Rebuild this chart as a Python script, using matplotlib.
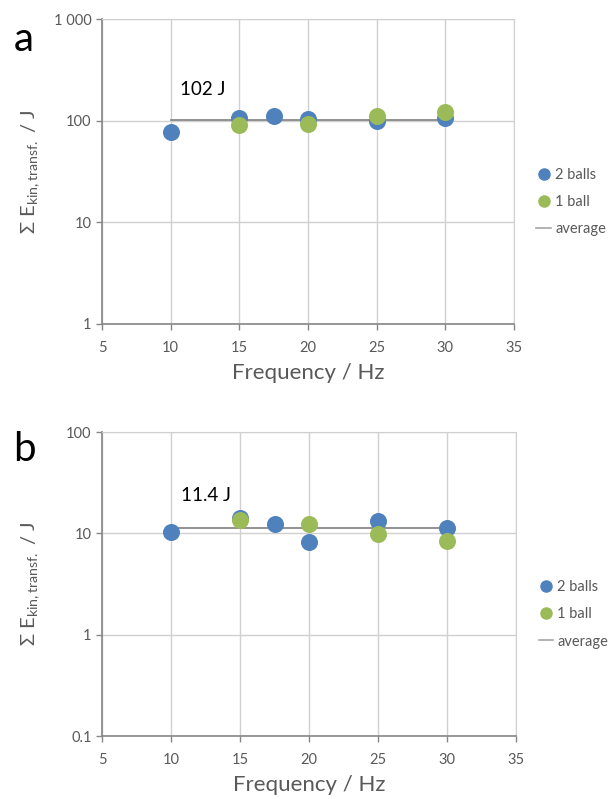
import matplotlib
matplotlib.use('Agg')
import matplotlib.pyplot as plt
from matplotlib.lines import Line2D
from matplotlib.ticker import FixedLocator, FixedFormatter, NullLocator

plt.rcParams['font.family'] = ['Lato', 'DejaVu Sans']
plt.rcParams['mathtext.default'] = 'regular'

BLUE = '#4f81bd'
GREEN = '#9bbb59'
GREY_TEXT = '#595959'

freq_two = [10, 15, 17.5, 20, 25, 30]
freq_one = [15, 20, 25, 30]

# panel a
energy_two_a = [78, 106, 112, 104, 100, 107]
energy_one_a = [91, 93, 110, 123]
average_a = 102

# panel b
energy_two_b = [10.4, 14.3, 12.4, 8.3, 13.2, 11.4]
energy_one_b = [13.7, 12.4, 9.8, 8.4]
average_b = 11.4

yticks_a = [1, 10, 100, 1000]
yticklabels_a = ['1', '10', '100', '1 000']
yticks_b = [0.1, 1, 10, 100]
yticklabels_b = ['0.1', '1', '10', '100']
xticks = [5, 10, 15, 20, 25, 30, 35]


def _draw_panel(ax, e_two, e_one, avg, yticks, yticklabels, note_y):
    ax.set_yscale('log')
    ax.set_xlim(5, 35)
    ax.set_ylim(yticks[0], yticks[-1])

    ax.plot([10, 30], [avg, avg], color='#7f7f7f', lw=1.2, zorder=2)
    ax.scatter(freq_two, e_two, s=150, color=BLUE, zorder=3, linewidths=0)
    ax.scatter(freq_one, e_one, s=150, color=GREEN, zorder=4, linewidths=0)

    ax.text(10.7, note_y, f'{avg:g} J', fontsize=13.5, color='black',
            va='center', ha='left')

    ax.xaxis.set_major_locator(FixedLocator(xticks))
    ax.yaxis.set_major_locator(FixedLocator(yticks))
    ax.yaxis.set_major_formatter(FixedFormatter(yticklabels))
    ax.yaxis.set_minor_locator(NullLocator())
    ax.grid(True, color='#d0d0d0', lw=1.0)
    ax.set_axisbelow(True)

    for side in ('top', 'right'):
        ax.spines[side].set_color('#d0d0d0')
    for side in ('left', 'bottom'):
        ax.spines[side].set_color('#868686')
        ax.spines[side].set_linewidth(1.2)
    ax.tick_params(direction='out', length=4, width=1.0, color='#868686',
                   labelcolor=GREY_TEXT, labelsize=10.5)
    ax.tick_params(axis='x', pad=8)

    ax.set_xlabel('Frequency / Hz', fontsize=16, color=GREY_TEXT, labelpad=6)
    ax.set_ylabel(r'Σ E$_{kin,transf.}$ / J', fontsize=14.5, color=GREY_TEXT)
    ax.yaxis.set_label_coords(-0.145, 0.5)

    handles = [
        Line2D([], [], marker='o', ls='none', color=BLUE, markersize=8),
        Line2D([], [], marker='o', ls='none', color=GREEN, markersize=8),
        Line2D([], [], color='#a6a6a6', lw=1.2),
    ]
    ax.legend(handles, ['2 balls', '1 ball', 'average'],
              loc='center left', bbox_to_anchor=(1.04, 0.40),
              frameon=False, fontsize=10.5, labelcolor=GREY_TEXT,
              handlelength=1.0, handletextpad=0.3, labelspacing=0.9,
              borderaxespad=0)


fig = plt.figure(figsize=(6.09, 7.99), dpi=100)
ax_a = fig.add_axes([0.1675, 0.5945, 0.6765, 0.3817])
ax_b = fig.add_axes([0.1675, 0.0788, 0.6800, 0.3805])

_draw_panel(ax_a, energy_two_a, energy_one_a, average_a,
            yticks_a, yticklabels_a, 201)
_draw_panel(ax_b, energy_two_b, energy_one_b, average_b,
            yticks_b, yticklabels_b, 23.8)

fig.text(0.022, 0.951, 'a', fontsize=29, color='black', va='center')
fig.text(0.022, 0.437, 'b', fontsize=29, color='black', va='center')

fig.savefig('out.png', dpi=100)
